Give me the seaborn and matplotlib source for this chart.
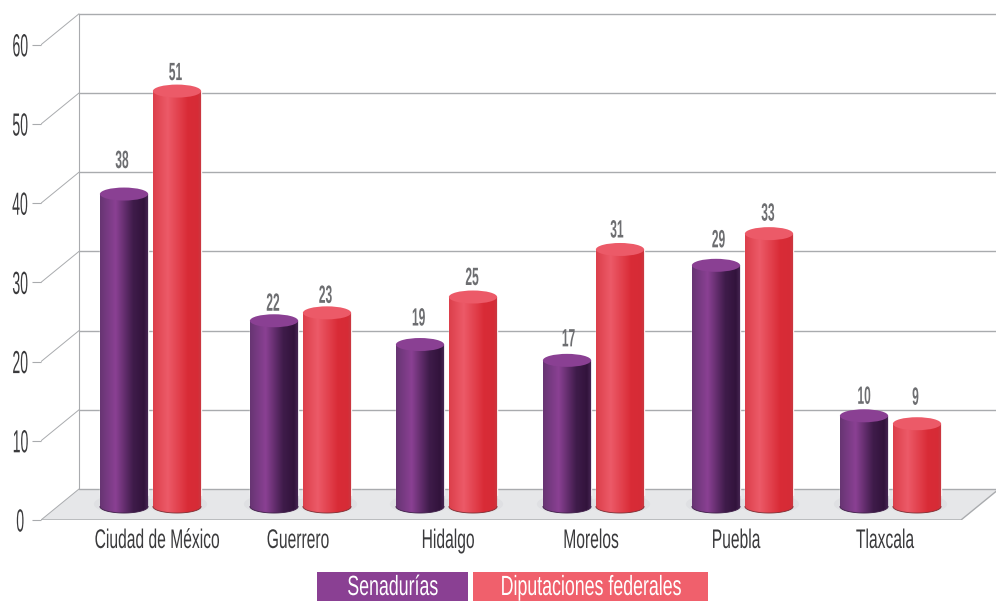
import numpy as np
import pandas as pd
import matplotlib
matplotlib.use('Agg')
import matplotlib.pyplot as plt
import seaborn as sns
from matplotlib.colors import LinearSegmentedColormap
from matplotlib.patches import Ellipse, Polygon, Rectangle
from matplotlib.patheffects import AbstractPathEffect
from matplotlib.transforms import Affine2D

# data
states = ['Ciudad de México', 'Guerrero', 'Hidalgo', 'Morelos', 'Puebla', 'Tlaxcala']
senadurias = [38, 22, 19, 17, 29, 10]
diputaciones = [51, 23, 25, 31, 33, 9]
series_names = ['Senadurías', 'Diputaciones federales']
y_ticks = [0, 10, 20, 30, 40, 50, 60]

# pixel helpers, the figure is 996x601 at dpi 100
PX_X = 148.0   # one category in px
PX_Y = 7.92    # one value unit in px
AX_LEFT, AX_RIGHT, AX_FRONT = 41, 996, 520

WALL_X = 38 / PX_X     # depth of the fake 3d box
WALL_Y = 31 / PX_Y
BAR_LIFT = 25 / PX_Y   # bars stand a bit behind the front edge
BASE_DROP = 11.5 / PX_Y   # cylinder foot hangs below its zero line
CAP_H = 13 / PX_Y

# small nudges seen in the picture, px
group_nudge = [0, 2, 0, -1, 0, 0]
label_nudge = [6.5, -0.5, 1.5, -3.5, -6.5, -5.5]
value_gap = [[35, 19, 28, 23, 27, 21], [20, 19, 21, 21, 22, 28]]
value_dx = [[-2, -1, -1.5, 1.5, 2.5, 0], [-1.5, -1.5, -1, -3, -1, -1.5]]

PURPLE = '#8a4093'
RED = '#f0606c'
GREY_LINE = '#a9abae'
cmaps = [
    LinearSegmentedColormap.from_list('cyl_purple', [(0, '#673573'), (0.32, '#8a4093'), (0.68, '#3f1c4a'),
                                                     (0.9, '#32133c'), (1, '#4a2a57')]),
    LinearSegmentedColormap.from_list('cyl_red', [(0, '#dc3f4b'), (0.3, '#ec5a68'), (0.72, '#d92b36'),
                                                  (0.92, '#d62c37'), (1, '#c63c45')]),
]
cap_colors = ['#8a4093', '#ec5a68']
foot_lines = ['#3d1c47', '#7d2a30']


class Condense(AbstractPathEffect):
    """Squeeze or stretch text, the original uses a very narrow font."""

    def __init__(self, sx=1.0, sy=1.0):
        super().__init__()
        self.sx = sx
        self.sy = sy

    def draw_path(self, renderer, gc, tpath, affine, rgbFace=None):
        box = tpath.get_extents()
        mid = (box.x0 + box.x1) / 2
        squeeze = Affine2D().translate(-mid, 0).scale(self.sx, self.sy).translate(mid, 0)
        renderer.draw_path(gc, tpath, squeeze + affine, rgbFace)


sns.set_theme(style='white')
plt.rcParams['font.family'] = ['Liberation Sans', 'DejaVu Sans']

df = pd.DataFrame({
    'state': states * 2,
    'serie': [series_names[0]] * len(states) + [series_names[1]] * len(states),
    'value': senadurias + diputaciones,
})

fig = plt.figure(figsize=(9.96, 6.01), dpi=100)
ax = fig.add_axes([AX_LEFT / 996, (601 - AX_FRONT) / 601, (AX_RIGHT - AX_LEFT) / 996, AX_FRONT / 601])

sns.barplot(data=df, x='state', y='value', hue='serie', order=states, hue_order=series_names,
            palette=[PURPLE, RED], width=0.716, gap=0.09, bottom=BAR_LIFT, legend=False,
            zorder=3, ax=ax)

x_min = -(150.5 - AX_LEFT) / PX_X
x_max = (AX_RIGHT - 150.5) / PX_X
y_max = AX_FRONT / PX_Y

# floor and back wall
x_wall = x_min + WALL_X
x_front_end = x_max - 35 / PX_X
ax.add_patch(Polygon([(x_min, 0), (x_front_end, 0), (x_front_end + WALL_X, WALL_Y), (x_wall, WALL_Y)],
                     facecolor='#e6e7e9', edgecolor='none', zorder=0))
ax.plot([x_min, x_front_end, x_front_end + WALL_X], [0, 0, WALL_Y], color=GREY_LINE, lw=1.0, zorder=1)
ax.plot([x_wall, x_wall], [WALL_Y, y_ticks[-1] + WALL_Y], color=GREY_LINE, lw=0.8, zorder=1)
for t in y_ticks:
    ax.plot([x_min, x_wall], [t, t + WALL_Y], color=GREY_LINE, lw=0.7, zorder=1)
    ax.plot([x_wall, x_max], [t + WALL_Y, t + WALL_Y], color=GREY_LINE, lw=1.0, zorder=1)

# turn the flat bars into cylinders
gradient = np.linspace(0, 1, 256).reshape(1, -1)
theta = np.linspace(np.pi, 2 * np.pi, 60)
for s, container in enumerate(ax.containers):
    for i, bar in enumerate(container):
        bar.set_x(bar.get_x() + group_nudge[i] / PX_X)
        x0 = bar.get_x()
        w = bar.get_width()
        mid = x0 + w / 2
        top = bar.get_y() + bar.get_height()
        foot = bar.get_y() - BASE_DROP

        ax.add_patch(Ellipse((mid, foot + 0.3), w * 1.25, CAP_H * 1.5, facecolor='#dfe0e3', edgecolor='none',
                             zorder=2))

        arc = np.column_stack([mid + w / 2 * np.cos(theta), foot + CAP_H / 2 * np.sin(theta)])
        outline = Polygon(np.vstack([arc, [(x0 + w, top), (x0, top)]]), transform=ax.transData,
                          facecolor='none', edgecolor='none')
        im = ax.imshow(gradient, cmap=cmaps[s], extent=[x0, x0 + w, foot - CAP_H, top], aspect='auto', zorder=4)
        im.set_clip_path(outline)
        ax.plot(arc[:, 0], arc[:, 1], color=foot_lines[s], lw=0.6, zorder=4.5)
        ax.add_patch(Ellipse((mid, top), w, CAP_H, facecolor=cap_colors[s], edgecolor='none', zorder=5))

        ax.annotate(str(int(round(bar.get_height()))), (mid, top),
                    xytext=(value_dx[s][i] * 0.72, (value_gap[s][i] - 2) * 0.72),
                    textcoords='offset points', ha='center', va='center', fontsize=18, fontweight='bold',
                    color='#6d6e71', path_effects=[Condense(0.48)], zorder=6)

ax.set_xlim(x_min, x_max)
ax.set_ylim(0, y_max)
for side in ax.spines:
    ax.spines[side].set_visible(False)

ax.set_xlabel('')
ax.set_ylabel('')
ax.set_yticks(y_ticks)
ax.set_yticklabels([str(t) for t in y_ticks], ha='center')
ax.tick_params(axis='y', left=True, length=6.5, width=0.8, color=GREY_LINE, pad=8.5)
ax.set_xticks(np.arange(len(states)) + np.array(label_nudge) / PX_X)
ax.set_xticklabels(states)
ax.tick_params(axis='x', bottom=False, pad=5.5)
for lab in ax.get_yticklabels():
    lab.set(fontsize=23, color='#3a3a3c', path_effects=[Condense(0.44)])
for lab in ax.get_xticklabels():
    # small size stretched up, so the label boxes keep their true width
    lab.set(fontsize=11.25, color='#3a3a3c', path_effects=[Condense(sy=1.72)])

# legend boxes along the bottom
legend_boxes = [(317, 468, PURPLE), (473, 708, RED)]
for name, (x0, x1, col) in zip(series_names, legend_boxes):
    fig.add_artist(Rectangle((x0 / 996, 0), (x1 - x0) / 996, 29 / 601, transform=fig.transFigure,
                             facecolor=col, edgecolor='none'))
    fig.text((x0 + x1) / 2 / 996, 13 / 601, name, ha='center', va='center', fontsize=20, color='white',
             path_effects=[Condense(0.64)])

fig.savefig('out.png', dpi=100)
